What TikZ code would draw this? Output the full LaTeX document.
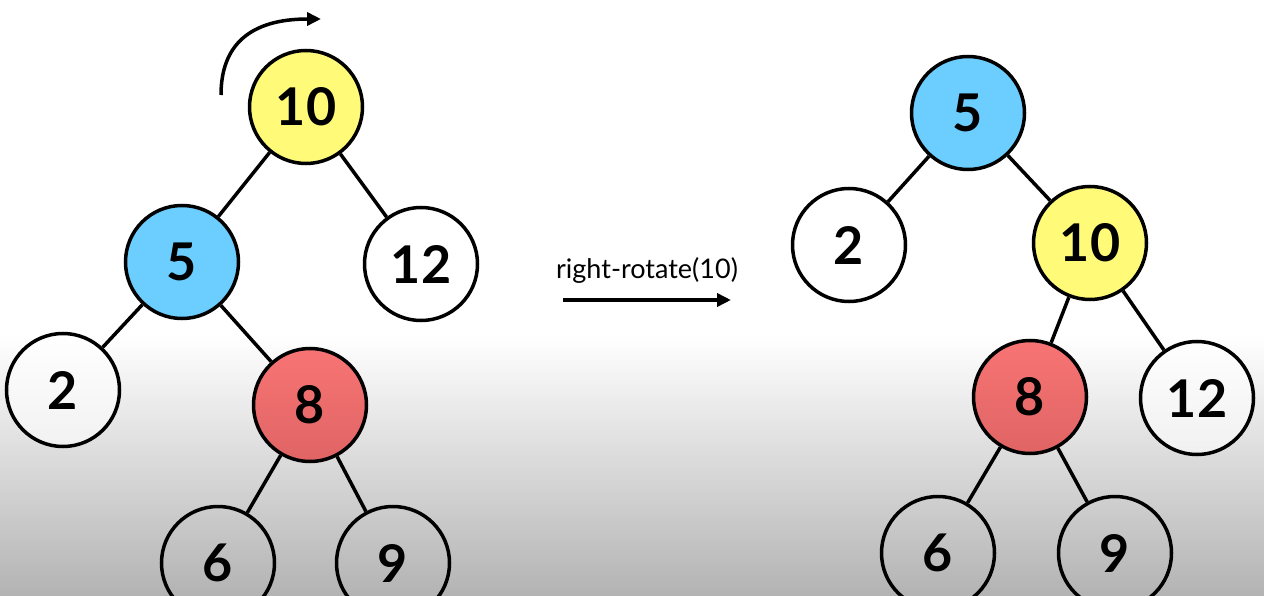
\documentclass[tikz,border=0pt]{standalone}
\usepackage{fontspec}
\setmainfont{Lato}
\usetikzlibrary{arrows.meta}
\definecolor{bggray}{HTML}{B3B3B3}
\definecolor{yel}{HTML}{FFFB78}
\definecolor{blu}{HTML}{6CCEFF}
\definecolor{redtop}{HTML}{F87474}
\definecolor{redbot}{HTML}{E06464}
\tikzset{
  x=1pt, y=-1pt,
  tn/.style={circle, draw=black, line width=3.5pt, minimum size=113pt, inner sep=0pt,
    font=\fontsize{52}{52}\selectfont\bfseries},
  yn/.style={tn, fill=yel},
  bn/.style={tn, fill=blu},
  rn/.style={tn, top color=redtop, bottom color=redbot},
  wn/.style={tn, fill=white, fill opacity=0.6, text opacity=1},
  gn/.style={tn},
  edge/.style={line width=3.5pt},
  arr/.style={line width=3.5pt, -{Triangle[length=14pt,width=13pt]}},
}
\begin{document}
\begin{tikzpicture}
\fill[white] (0,0) rectangle (1264,336);
\shade[top color=white, bottom color=bggray] (0,335.5) rectangle (1264,596);
\useasboundingbox (0,0) rectangle (1264,596);
% left tree
\node[yn] (L10) at (306,107) {10};
\node[wn] (L12) at (421,264) {12};
\node[bn] (L5) at (182,262) {5};
\node[wn] (L2) at (63,390) {2};
\node[rn] (L8) at (310,405) {8};
\node[gn] (L6) at (218,563) {6};
\node[gn] (L9) at (393,563) {9};
\draw[edge] (L10) -- (L5);
\draw[edge] (L10) -- (L12);
\draw[edge] (L5) -- (L2);
\draw[edge] (L5) -- (L8);
\draw[edge] (L8) -- (L6);
\draw[edge] (L8) -- (L9);
% rotation arrow
\coordinate (rs) at (221,95);
\coordinate (re) at (321,19);
\draw[arr] (rs) .. controls (221,45) and (250,19) .. (re);
% middle arrow
\node[font=\fontsize{27}{27}\selectfont] (lab) at (647,270) {right-rotate(10)};
\coordinate (as) at (563,300);
\coordinate (ae) at (731,300);
\draw[arr] (as) -- (ae);
% right tree
\node[bn] (R5) at (968,113) {5};
\node[wn] (R2) at (849,245) {2};
\node[yn] (R10) at (1090,243) {10};
\node[rn] (R8) at (1030,397) {8};
\node[wn] (R12) at (1197,398) {12};
\node[gn] (R6) at (938,553) {6};
\node[gn] (R9) at (1115,553) {9};
\draw[edge] (R5) -- (R2);
\draw[edge] (R5) -- (R10);
\draw[edge] (R10) -- (R8);
\draw[edge] (R10) -- (R12);
\draw[edge] (R8) -- (R6);
\draw[edge] (R8) -- (R9);
\end{tikzpicture}
\end{document}
